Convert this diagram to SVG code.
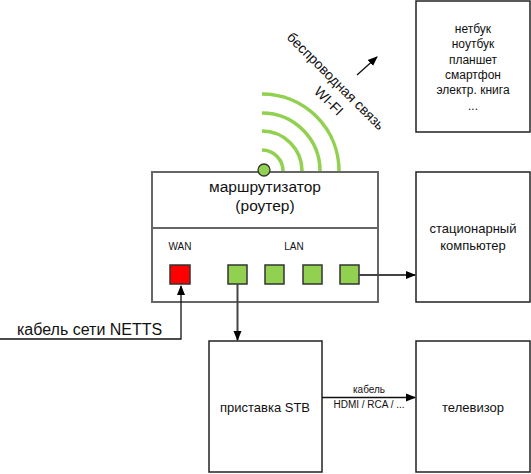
<svg xmlns="http://www.w3.org/2000/svg" width="531" height="474" viewBox="0 0 531 474">
<defs>
<style>
text{font-family:"Liberation Sans",Arial,sans-serif;fill:#111;}
.box{fill:#fff;stroke:#222;stroke-width:1.5;}
.router{fill:#fff;stroke:#666;stroke-width:2;}
.port{stroke:#333;stroke-width:1.5;}
.g{fill:#92D050;}
.r{fill:#FF0000;}
.wave{fill:none;stroke:#92D050;stroke-width:3.5;}
.c{fill:none;stroke:#111;stroke-width:1.3;}
.cg{fill:none;stroke:#444;stroke-width:2;}
.m{text-anchor:middle;}
</style>
<marker id="ah" markerWidth="10" markerHeight="10" refX="9" refY="4" orient="auto" markerUnits="userSpaceOnUse" viewBox="0 0 10 8">
<path d="M0,0 L10,4 L0,8 Z" fill="#000"/>
</marker>
</defs>
<rect width="531" height="474" fill="#fff"/>

<g id="devices">
<rect class="box" x="416" y="1" width="114" height="131"/>
<text class="m" x="473" y="33" font-size="12">нетбук</text>
<text class="m" x="473" y="48" font-size="12">ноутбук</text>
<text class="m" x="473" y="63.5" font-size="12">планшет</text>
<text class="m" x="473" y="79" font-size="12">смартфон</text>
<text class="m" x="473" y="94" font-size="12">электр. книга</text>
<text class="m" x="473" y="109.5" font-size="12">...</text>
</g>

<g id="wifi">
<path class="wave" d="M262,150 A21,21 0 0 1 283,171"/>
<path class="wave" d="M262,131 A40,40 0 0 1 302,171"/>
<path class="wave" d="M262,113 A58,58 0 0 1 320,171"/>
<path class="wave" d="M262,94 A77,77 0 0 1 339,171"/>
<g transform="translate(336,81) rotate(45)">
<text class="m" x="0" y="5" font-size="14">беспроводная связь</text>
<text class="m" x="9" y="24" font-size="14">WI-FI</text>
</g>
</g>

<g id="router">
<rect class="router" x="152" y="172" width="226" height="130"/>
<line x1="152" y1="228" x2="378" y2="228" stroke="#666" stroke-width="2"/>
<text class="m" x="265" y="192" font-size="15.5">маршрутизатор</text>
<text class="m" x="265" y="211" font-size="15.5">(роутер)</text>
<text class="m" x="180" y="250" font-size="10">WAN</text>
<text class="m" x="294" y="250" font-size="10">LAN</text>
<rect class="port r" x="170" y="265" width="20" height="19"/>
<rect class="port g" x="228" y="265" width="19" height="19"/>
<rect class="port g" x="265" y="265" width="19" height="19"/>
<rect class="port g" x="303" y="265" width="19" height="19"/>
<rect class="port g" x="340" y="265" width="19" height="19"/>
<circle cx="264" cy="170" r="6" fill="#92D050" stroke="#333" stroke-width="1.3"/>
</g>

<g id="computer">
<rect class="box" x="416" y="172" width="114" height="130"/>
<text class="m" x="473" y="233" font-size="13">стационарный</text>
<text class="m" x="473" y="250" font-size="13">компьютер</text>
</g>

<g id="stb">
<rect class="box" x="209" y="341" width="113" height="131"/>
<text class="m" x="265" y="412" font-size="13">приставка STB</text>
</g>

<g id="tv">
<rect class="box" x="416" y="341" width="114" height="131"/>
<text class="m" x="473" y="412" font-size="13">телевизор</text>
</g>

<g id="connectors">
<polyline class="c" points="0,339 181,339 181,286" marker-end="url(#ah)"/>
<line class="cg" x1="237.5" y1="284" x2="237.5" y2="340" marker-end="url(#ah)"/>
<line class="cg" x1="359" y1="275" x2="415" y2="275" marker-end="url(#ah)"/>
<line class="c" x1="322" y1="397.5" x2="415" y2="397.5" marker-end="url(#ah)"/>
<line class="c" x1="357" y1="75" x2="377" y2="57" marker-end="url(#ah)"/>
<text x="17" y="335" font-size="16">кабель сети NETTS</text>
<text class="m" x="369" y="393" font-size="10">кабель</text>
<text class="m" x="369" y="408" font-size="10">HDMI / RCA / ...</text>
</g>
</svg>
